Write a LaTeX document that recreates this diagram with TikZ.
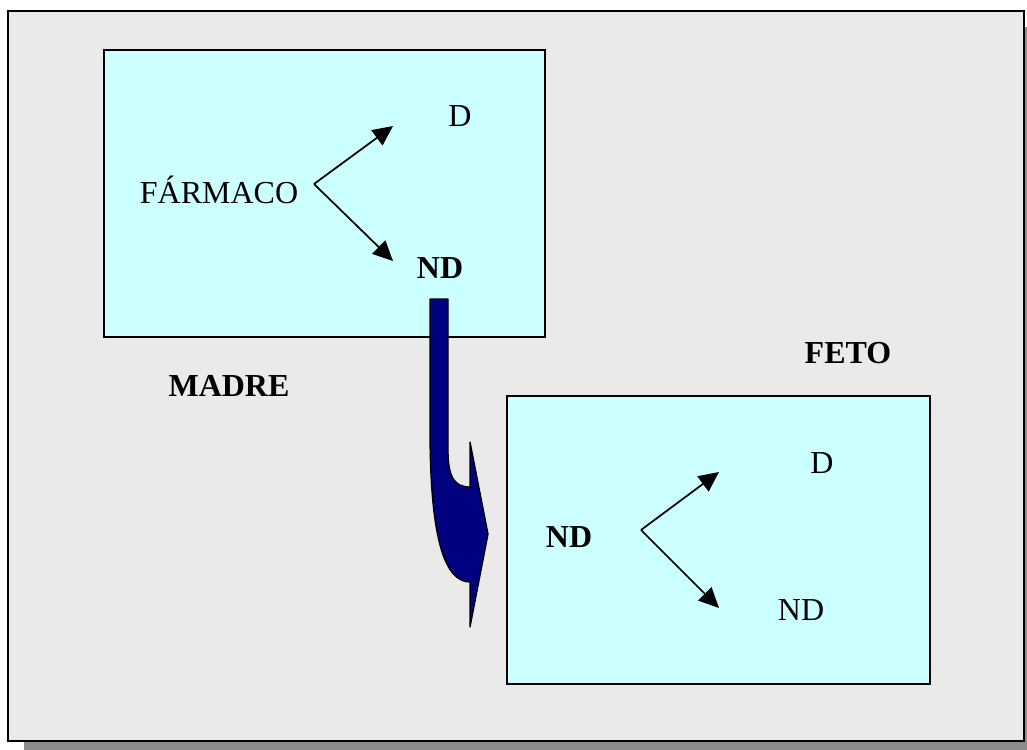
\documentclass[tikz,border=0pt]{standalone}
\usepackage{fontspec}
\setmainfont{Liberation Serif}
\usetikzlibrary{arrows.meta}
\definecolor{pagegray}{HTML}{EAEAEA}
\definecolor{shadowgray}{HTML}{8C8C8C}
\definecolor{boxcyan}{HTML}{CCFFFF}
\definecolor{navyblue}{HTML}{000080}
\tikzset{
  panel/.style={draw=black, line width=1.5pt, fill=boxcyan},
  lbl/.style={inner sep=0pt, font=\fontsize{24}{28}\selectfont},
  boldlbl/.style={lbl, font=\fontsize{24}{28}\selectfont\bfseries},
  fork/.style={line width=1.3pt, -{Triangle[length=15pt,width=14pt]}},
  transfer/.style={draw=black, line width=1pt, fill=navyblue, line join=round}
}
\begin{document}
\begin{tikzpicture}[x=0.75pt, y=-0.75pt]
  \useasboundingbox (0,0) rectangle (1027,749);
  \clip (0,0) rectangle (1027,749);
  % page with drop shadow
  \fill[shadowgray] (24,27) rectangle (1044,761);
  \draw[line width=2.2pt, fill=pagegray] (8,11) rectangle (1024,741);

  % mother compartment
  \draw[panel] (104,50) rectangle (545,337);
  % fetal compartment
  \draw[panel] (507,396) rectangle (930,684);

  % transfer arrow from mother to fetus
  \draw[transfer] (430,299) -- (430,430)
    .. controls (430,540) and (445,582) .. (470,582)
    -- (470,627) -- (488,534) -- (470,442) -- (470,487)
    .. controls (455,487) and (448,478) .. (448,450)
    -- (448,299) -- cycle;

  % labels, mother
  \node[lbl] (farmaco) at (219,190) {FÁRMACO};
  \node[lbl] (dm) at (460,116) {D};
  \node[boldlbl] (ndm) at (440,268) {ND};
  \node[boldlbl] (madre) at (229,386) {MADRE};
  % labels, fetus
  \node[boldlbl] (feto) at (848,353) {FETO};
  \node[boldlbl] (ndf) at (569,537) {ND};
  \node[lbl] (df) at (822,463) {D};
  \node[lbl] (ndf2) at (801,610) {ND};

  % forks
  \coordinate (vm) at (314,184);
  \coordinate (tipdm) at (393,126);
  \coordinate (tipndm) at (393,261);
  \draw[fork] (vm) -- (tipdm);
  \draw[fork] (vm) -- (tipndm);

  \coordinate (vf) at (641,530);
  \coordinate (tipdf) at (719,472);
  \coordinate (tipndf) at (719,608);
  \draw[fork] (vf) -- (tipdf);
  \draw[fork] (vf) -- (tipndf);
\end{tikzpicture}
\end{document}
